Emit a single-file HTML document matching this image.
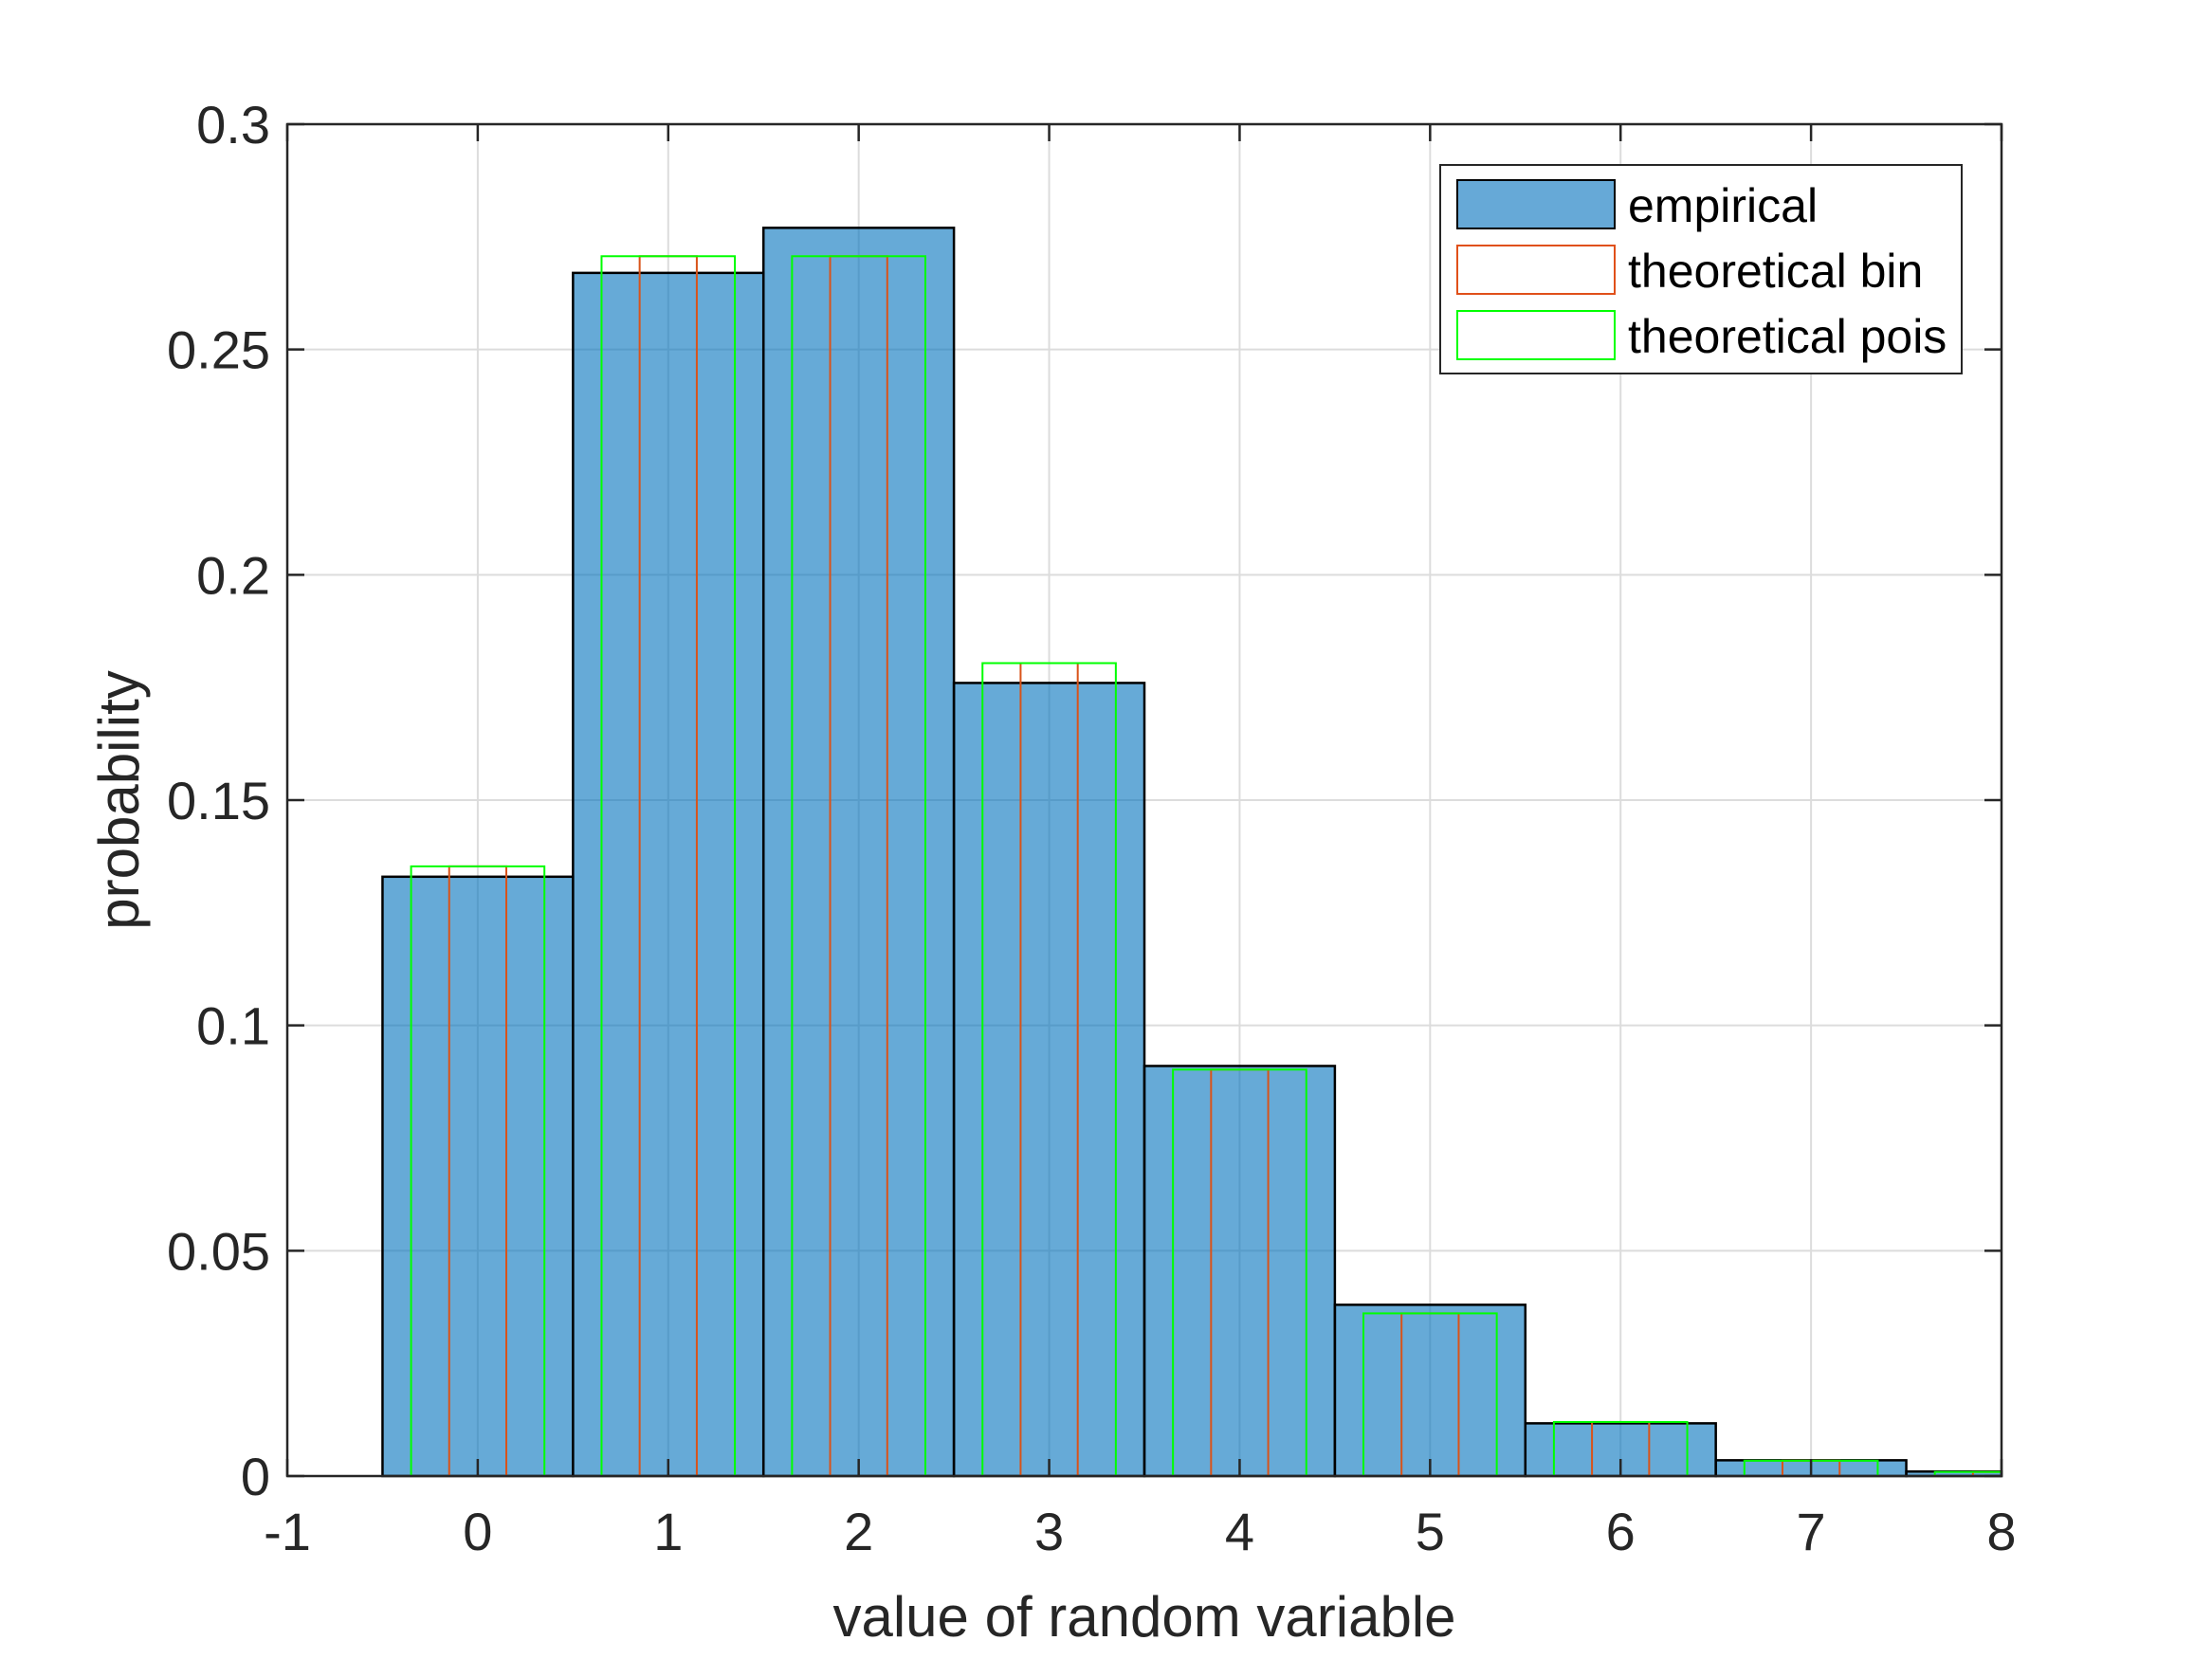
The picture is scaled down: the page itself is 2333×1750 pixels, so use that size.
<!DOCTYPE html>
<html><head><meta charset="utf-8"><style>
html,body{margin:0;padding:0;background:#fff}
svg{display:block;font-family:"Liberation Sans",Arial,sans-serif}
</style></head><body>
<svg id="chart" width="2333" height="1750" viewBox="0 0 2333 1750" xmlns="http://www.w3.org/2000/svg">
<rect x="0" y="0" width="2333" height="1750" fill="#fff"/>
<g id="grid"></g>
<g id="bars"></g>
<g id="axes"></g>
<text x="1207" y="1726" font-size="60" text-anchor="middle" fill="#262626">value of random variable</text>
<text transform="translate(146,844) rotate(-90)" font-size="60" text-anchor="middle" fill="#262626">probability</text>
<g>
<rect x="1519" y="174" width="550" height="220" fill="#fff" stroke="#262626" stroke-width="2"/>
<rect x="1537" y="190" width="166" height="51" fill="#66a9d7" stroke="#000" stroke-width="2"/>
<text x="1717" y="234" font-size="50" fill="#000">empirical</text>
<rect x="1537" y="259" width="166" height="51" fill="none" stroke="#e0501a" stroke-width="2"/>
<text x="1717" y="303" font-size="50" fill="#000">theoretical bin</text>
<rect x="1537" y="328" width="166" height="51" fill="none" stroke="#00ff00" stroke-width="2"/>
<text x="1717" y="372" font-size="50" fill="#000">theoretical pois</text>
</g>
</svg>
<script>
const categories = [0,1,2,3,4,5,6,7,8];
const empirical = [0.133,0.267,0.277,0.176,0.091,0.038,0.0117,0.0035,0.001];
const theoBin = [0.1353,0.2707,0.2707,0.1804,0.0902,0.0361,0.0120,0.0034,0.0009];
const theoPois = [0.1353,0.2707,0.2707,0.1804,0.0902,0.0361,0.0120,0.0034,0.0009];
const xTicks = [-1,0,1,2,3,4,5,6,7,8];
const yTicks = [0,0.05,0.1,0.15,0.2,0.25,0.3];
const yTickLabels = ["0","0.05","0.1","0.15","0.2","0.25","0.3"];

const L=303,R=2111,T=131,B=1557, XMIN=-1,XMAX=8,YMIN=0,YMAX=0.3;
const sx=v=>L+(v-XMIN)/(XMAX-XMIN)*(R-L);
const sy=v=>B-(v-YMIN)/(YMAX-YMIN)*(B-T);
const NS="http://www.w3.org/2000/svg";
function mk(tag,attrs,parent){const e=document.createElementNS(NS,tag);for(const k in attrs)e.setAttribute(k,attrs[k]);parent.appendChild(e);return e;}
const grid=document.getElementById('grid'),bars=document.getElementById('bars'),axes=document.getElementById('axes');

xTicks.forEach(t=>{const g=mk('line',{x1:sx(t),x2:sx(t),y1:T,y2:B,stroke:'#dcdcdc','stroke-width':2},grid);

});
yTicks.forEach(t=>{const g=mk('line',{x1:L,x2:R,y1:sy(t),y2:sy(t),stroke:'#dcdcdc','stroke-width':2},grid);

});

function clipX(v){return Math.max(XMIN,Math.min(XMAX,v));}
categories.forEach((c,i)=>{
  const x0=clipX(c-0.5),x1=clipX(c+0.5);
  const r=mk('rect',{x:sx(x0),y:sy(empirical[i]),width:sx(x1)-sx(x0),height:sy(0)-sy(empirical[i]),fill:'#0072bd','fill-opacity':0.6,stroke:'#000','stroke-width':2.5},bars);
  
  
});
categories.forEach((c,i)=>{
  const x0=clipX(c-0.15),x1=clipX(c+0.15);
  const r=mk('rect',{x:sx(x0),y:sy(theoBin[i]),width:sx(x1)-sx(x0),height:sy(0)-sy(theoBin[i]),fill:'none',stroke:'#d95319','stroke-width':2},bars);
  
  
});
categories.forEach((c,i)=>{
  const x0=clipX(c-0.35),x1=clipX(c+0.35);
  const r=mk('rect',{x:sx(x0),y:sy(theoPois[i]),width:sx(x1)-sx(x0),height:sy(0)-sy(theoPois[i]),fill:'none',stroke:'#00ff00','stroke-width':2},bars);
  
  
});

const box=mk('rect',{x:L,y:T,width:R-L,height:B-T,fill:'none',stroke:'#262626','stroke-width':2.5},axes);


xTicks.forEach(t=>{
  mk('line',{x1:sx(t),x2:sx(t),y1:B,y2:B-18,stroke:'#262626','stroke-width':2.5},axes);
  mk('line',{x1:sx(t),x2:sx(t),y1:T,y2:T+18,stroke:'#262626','stroke-width':2.5},axes);
  const tx=mk('text',{x:sx(t),y:B+78,'font-size':56,'text-anchor':'middle',fill:'#262626'},axes);
  tx.textContent=String(t);
  
  
});
yTicks.forEach((t,i)=>{
  mk('line',{x1:L,x2:L+18,y1:sy(t),y2:sy(t),stroke:'#262626','stroke-width':2.5},axes);
  mk('line',{x1:R,x2:R-18,y1:sy(t),y2:sy(t),stroke:'#262626','stroke-width':2.5},axes);
  const tx=mk('text',{x:L-18,y:sy(t)+20,'font-size':56,'text-anchor':'end',fill:'#262626'},axes);
  tx.textContent=yTickLabels[i];
  
  
});
</script>
</body></html>
